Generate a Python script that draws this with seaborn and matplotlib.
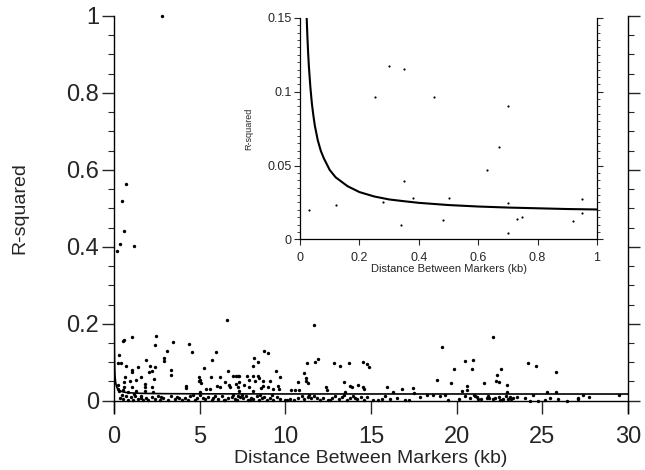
import seaborn as sns
import matplotlib
matplotlib.use('Agg')
import matplotlib.pyplot as plt
from matplotlib.ticker import MultipleLocator, FuncFormatter


# scatter points, main panel (distance kb, r-squared)
main_x = [2.82, 0.70, 0.45, 0.60, 0.35, 0.19, 1.17,
          0.54, 0.60, 1.05, 2.43, 2.41, 3.46, 4.36, 4.57, 3.11, 2.94, 2.94, 3.31, 3.31,
          0.31, 0.22, 0.43, 0.68, 1.87, 1.40, 1.03, 1.03, 2.10, 2.20, 2.37, 2.04, 1.56,
          1.28, 0.64, 0.93, 0.58, 2.32, 1.83, 1.83, 2.22, 1.03, 0.25, 4.20, 4.22, 4.98,
          5.02, 4.95, 5.06, 5.27, 5.70, 5.95, 5.66, 6.19, 6.67, 6.62, 6.93, 7.26, 6.50,
          6.70, 6.80, 6.02, 6.20, 5.40, 5.60, 5.00,
          11.68, 8.77, 8.97, 8.19, 8.42, 8.11, 9.46, 9.69, 9.13, 9.60, 9.65, 11.73, 11.89,
          11.25, 12.86, 13.21, 13.72, 14.55, 11.10, 11.20, 11.30, 11.22, 10.72, 8.42, 8.45,
          8.25, 8.10, 7.75, 7.88, 7.30, 7.10, 7.30, 7.15, 7.22, 7.60, 7.90, 8.68, 8.72,
          8.60, 9.00, 9.30, 10.33, 10.57, 10.80, 12.36, 12.45, 13.45, 13.80, 13.90, 14.26,
          14.55, 13.50, 8.10, 7.30,
          14.75, 14.89, 19.15, 20.49, 20.96, 20.92, 19.85, 18.86, 19.65, 21.60, 14.60,
          15.92, 16.31, 16.79, 17.47, 17.50, 20.30, 20.60, 20.58,
          22.10, 24.15, 24.64, 25.80, 22.61, 22.34, 22.30, 22.50, 22.96, 22.95, 25.30,
          25.80, 27.36, 27.70, 29.48, 27.10,
          # low band
          0.35, 0.54, 0.70, 0.84, 0.97, 1.09, 1.23, 1.42, 1.56, 1.71, 1.87, 2.00, 2.20,
          2.39, 2.59, 2.69, 2.88, 3.17, 3.56, 3.66, 3.95, 4.14, 4.44, 4.73, 4.86, 5.02,
          5.31, 5.51, 5.70, 5.89, 6.09, 6.29, 6.48, 6.68, 6.87, 7.06, 7.26,
          0.30, 0.50, 0.80, 1.30, 1.80, 2.30, 0.25, 0.60, 0.45, 1.15, 1.60, 2.75, 3.30,
          3.80, 4.30, 4.60, 5.20, 5.80, 6.40, 6.95,
          7.16, 7.35, 7.55, 7.69, 7.84, 8.00, 8.13, 8.33, 8.47, 8.62, 8.78, 8.91, 9.11,
          9.30, 9.50, 9.69, 9.98, 10.27, 10.53, 10.76, 10.96, 11.11, 11.31, 11.50, 11.70,
          12.03, 12.22, 12.51, 12.71, 12.90, 13.14, 13.29, 13.58, 13.78, 13.97, 14.17,
          14.42, 14.62, 7.45, 7.95, 8.55, 9.20, 10.10, 11.40, 11.85, 12.60, 13.40, 14.05,
          14.75, 15.14, 15.63, 15.82, 16.11, 16.99, 17.86, 18.25, 18.64, 19.03, 19.32,
          19.52, 20.16, 20.79, 21.27, 21.76, 21.00, 21.10, 21.20, 15.40, 16.50, 17.20,
          20.50, 21.45,
          21.85, 21.89, 22.14, 22.24, 22.47, 22.53, 22.73, 22.86, 23.02, 23.17, 23.31,
          23.51, 24.00, 24.29, 24.48, 24.77, 25.16, 25.45, 25.94, 26.47, 27.07, 22.65,
          23.10]
main_y = [1.000, 0.564, 0.519, 0.442, 0.408, 0.390, 0.401,
          0.154, 0.158, 0.165, 0.167, 0.144, 0.152, 0.148, 0.127, 0.128, 0.111, 0.102, 0.080, 0.068,
          0.118, 0.098, 0.098, 0.091, 0.106, 0.087, 0.080, 0.074, 0.089, 0.076, 0.087, 0.074, 0.061,
          0.055, 0.061, 0.050, 0.048, 0.056, 0.043, 0.036, 0.036, 0.036, 0.041, 0.039, 0.034, 0.061,
          0.054, 0.050, 0.047, 0.085, 0.106, 0.126, 0.061, 0.061, 0.076, 0.210, 0.065, 0.065, 0.048,
          0.040, 0.036, 0.038, 0.036, 0.030, 0.030, 0.022,
          0.198, 0.128, 0.125, 0.110, 0.100, 0.089, 0.078, 0.061, 0.051, 0.039, 0.030, 0.100, 0.109,
          0.099, 0.097, 0.089, 0.098, 0.100, 0.072, 0.060, 0.045, 0.052, 0.048, 0.065, 0.058,
          0.050, 0.064, 0.063, 0.055, 0.063, 0.063, 0.048, 0.043, 0.036, 0.040, 0.035, 0.052, 0.039,
          0.033, 0.035, 0.030, 0.027, 0.027, 0.027, 0.036, 0.027, 0.048, 0.039, 0.036, 0.040,
          0.036, 0.022, 0.025, 0.025,
          0.095, 0.087, 0.140, 0.103, 0.106, 0.083, 0.083, 0.055, 0.046, 0.046, 0.030,
          0.036, 0.023, 0.030, 0.032, 0.020, 0.025, 0.039, 0.027,
          0.165, 0.098, 0.089, 0.074, 0.083, 0.067, 0.052, 0.048, 0.040, 0.022, 0.023,
          0.022, 0.016, 0.010, 0.016, 0.004,
          # low band
          0.008, 0.004, 0.012, 0.003, 0.009, 0.002, 0.011, 0.005, 0.013, 0.003, 0.008, 0.001, 0.010,
          0.004, 0.012, 0.002, 0.006, 0.003, 0.005, 0.010, 0.002, 0.006, 0.012, 0.003, 0.008, 0.014,
          0.004, 0.009, 0.002, 0.011, 0.005, 0.013, 0.003, 0.008, 0.010, 0.004, 0.012,
          0.025, 0.028, 0.022, 0.026, 0.024, 0.022, 0.030, 0.035, 0.016, 0.018, 0.007, 0.009, 0.012,
          0.007, 0.001, 0.016, 0.006, 0.007, 0.001, 0.015,
          0.003, 0.010, 0.006, 0.013, 0.002, 0.008, 0.004, 0.012, 0.002, 0.007, 0.010, 0.003, 0.006,
          0.001, 0.009, 0.004, 0.002, 0.005, 0.003, 0.008, 0.012, 0.004, 0.010, 0.006, 0.013,
          0.003, 0.008, 0.002, 0.006, 0.011, 0.004, 0.009, 0.002, 0.007, 0.012, 0.004,
          0.009, 0.002, 0.015, 0.001, 0.014, 0.016, 0.001, 0.015, 0.006, 0.001, 0.016, 0.007,
          0.010, 0.003, 0.005, 0.011, 0.004, 0.003, 0.010, 0.014, 0.016, 0.012, 0.014,
          0.001, 0.004, 0.008, 0.004, 0.007, 0.015, 0.012, 0.009, 0.002, 0.006, 0.001,
          0.013, 0.005,
          0.012, 0.006, 0.004, 0.008, 0.010, 0.001, 0.004, 0.012, 0.004, 0.004, 0.006,
          0.010, 0.006, 0.000, 0.014, 0.000, 0.001, 0.006, 0.004, 0.000, 0.006, 0.002,
          0.009]

# scatter points seen in the inset (0-1 kb)
inset_x = [0.301, 0.351, 0.251, 0.450, 0.700, 0.671, 0.631, 0.350, 0.031, 0.121, 0.279,
           0.382, 0.502, 0.700, 0.951, 0.951, 0.481, 0.731, 0.749, 0.920, 0.340, 0.700]
inset_y = [0.1172, 0.1156, 0.0966, 0.0964, 0.0900, 0.0624, 0.0471, 0.0394, 0.0199, 0.0229,
           0.0253, 0.0278, 0.0283, 0.0244, 0.0271, 0.0181, 0.0131, 0.0140, 0.0149, 0.0122,
           0.0097, 0.0041]

# fitted decay curve
curve_x = [0.012, 0.015, 0.018, 0.02, 0.0225, 0.025, 0.0275, 0.03, 0.035, 0.04, 0.045, 0.05,
           0.06, 0.07, 0.08, 0.09, 0.1, 0.12, 0.14, 0.16, 0.18, 0.2, 0.25, 0.3, 0.35, 0.4,
           0.5, 0.6, 0.7, 0.8, 0.9, 1.0, 1.5, 2, 3, 5, 10, 20, 30]
curve_y = [0.267, 0.217, 0.184, 0.167, 0.150, 0.137, 0.126, 0.117, 0.103, 0.092, 0.084, 0.077,
           0.067, 0.060, 0.055, 0.051, 0.047, 0.042, 0.039, 0.036, 0.034, 0.032, 0.029, 0.027,
           0.0258, 0.0247, 0.0232, 0.0222, 0.0215, 0.0210, 0.0205, 0.0202, 0.0192, 0.0187,
           0.0182, 0.0178, 0.0175, 0.0174, 0.0173]


sns.set_style('ticks')
plt.rcParams['font.family'] = ['Liberation Sans', 'DejaVu Sans']

fig = plt.figure(figsize=(6.45, 4.7), dpi=100)
ax = fig.add_axes([0.1767, 0.1213, 0.7969, 0.8447])

sns.scatterplot(x=main_x, y=main_y, ax=ax, color='black', s=6, linewidth=0,
                clip_on=False, zorder=3)
sns.lineplot(x=curve_x, y=curve_y, ax=ax, color='black', linewidth=1.2,
             estimator=None, sort=False)

ax.set_xlim(0, 30)
ax.set_ylim(-0.032, 1)
ax.spines['top'].set_visible(False)
ax.spines['bottom'].set_position(('data', 0))
for s in ['left', 'right', 'bottom']:
    ax.spines[s].set_linewidth(1.0)
    ax.spines[s].set_color('black')

ax.xaxis.set_major_locator(MultipleLocator(5))
ax.yaxis.set_major_locator(MultipleLocator(0.2))
ax.yaxis.set_minor_locator(MultipleLocator(0.05))
fmt = FuncFormatter(lambda v, p: '{:g}'.format(round(v, 3)))
ax.xaxis.set_major_formatter(fmt)
ax.yaxis.set_major_formatter(fmt)
ax.tick_params(axis='x', which='major', direction='out', length=9.4, width=1.0,
               labelsize=17, pad=9)
ax.tick_params(axis='y', which='major', direction='out', length=8.6, width=1.0,
               labelsize=17, pad=2, right=True)
ax.tick_params(axis='y', which='minor', direction='out', length=4.3, width=0.8, right=True)
ax.set_xlabel('Distance Between Markers (kb)', fontsize=14, labelpad=1)
ax.set_ylabel('')
fig.text(20 / 645, 1 - 208 / 470, 'R-squared', rotation=90, ha='center', va='center',
         fontsize=14)

# inset
ins = fig.add_axes([0.4651, 0.4909, 0.4605, 0.4709])
ins.set_facecolor('white')
sns.scatterplot(x=inset_x, y=inset_y, ax=ins, color='black', s=2.5, linewidth=0, zorder=3)
sns.lineplot(x=curve_x, y=curve_y, ax=ins, color='black', linewidth=1.5,
             estimator=None, sort=False)
ins.set_xlim(0, 1)
ins.set_ylim(0, 0.15)
ins.spines['top'].set_visible(False)
for s in ['left', 'right', 'bottom']:
    ins.spines[s].set_linewidth(0.9)
    ins.spines[s].set_color('black')
ins.xaxis.set_major_locator(MultipleLocator(0.2))
ins.yaxis.set_major_locator(MultipleLocator(0.05))
ins.yaxis.set_minor_locator(MultipleLocator(0.005))
ins.xaxis.set_major_formatter(fmt)
ins.yaxis.set_major_formatter(fmt)
ins.tick_params(axis='x', which='major', direction='out', length=4.5, width=0.8,
                labelsize=9, pad=4.5)
ins.tick_params(axis='y', which='major', direction='out', length=4.5, width=0.8,
                labelsize=9, pad=1.5, right=True)
ins.tick_params(axis='y', which='minor', direction='out', length=2.2, width=0.6, right=True)
ins.set_xlabel('Distance Between Markers (kb)', fontsize=8, labelpad=0)
ins.set_ylabel('R-squared', fontsize=6.5, labelpad=10)

fig.savefig('out.png', dpi=100)
